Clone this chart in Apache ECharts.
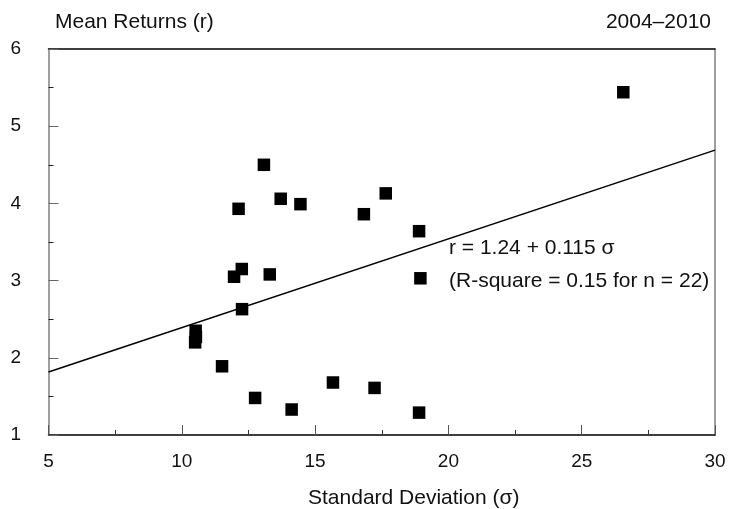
<!DOCTYPE html>
<html>
<head>
<meta charset="utf-8">
<script src="https://cdn.jsdelivr.net/npm/echarts@6/dist/echarts.min.js"></script>
<style>
  html, body { margin: 0; padding: 0; background: #fff; }
  #chart { width: 730px; height: 509px; }
</style>
</head>
<body>
<div id="chart"></div>
<script>
// Standard deviation (sigma) and mean return (r) per fund, 2004–2010
const sigma = [13.08, 12.13, 13.71, 14.45, 16.83, 17.65, 18.90, 12.25, 11.96, 13.30, 18.95,
               12.26, 10.52, 10.50, 10.53, 11.51, 12.75, 14.12, 15.67, 17.23, 18.90, 26.56];
const meanReturn = [4.50, 3.93, 4.06, 3.99, 3.86, 4.13, 3.64, 3.15, 3.05, 3.08, 3.03,
                    2.63, 2.35, 2.20, 2.27, 1.89, 1.48, 1.33, 1.68, 1.61, 1.29, 5.44];

// Fitted line r = a + b * sigma
const intercept = 1.24;
const slope = 0.115;
const fitRange = [5, 30];

const xTicks = [5, 10, 15, 20, 25, 30];
const yTicks = [1, 2, 3, 4, 5, 6];

const FONT = '"Liberation Sans", Arial, Helvetica, sans-serif';
const FS = 19;   // tick labels
const TS = 21;   // titles and annotation

const points = sigma.map((s, i) => [s, meanReturn[i]]);
const fitLine = fitRange.map(s => [s, intercept + slope * s]);

const chart = echarts.init(document.getElementById('chart'), null, { renderer: 'canvas' });

chart.setOption({
  animation: false,
  backgroundColor: '#ffffff',
  grid: { left: 48.5, right: 15, top: 49, bottom: 74 },
  title: [
    { text: 'Mean Returns (r)', left: 50, top: 7,
      textStyle: { fontFamily: FONT, fontSize: TS, fontWeight: 'normal', color: '#111' } },
    { text: '2004–2010', right: 14, top: 7,
      textStyle: { fontFamily: FONT, fontSize: TS, fontWeight: 'normal', color: '#111' } },
    { text: 'Standard Deviation (σ)', left: 303, top: 483,
      textStyle: { fontFamily: FONT, fontSize: TS, fontWeight: 'normal', color: '#111' } }
  ],
  xAxis: [
    {
      type: 'value', min: xTicks[0], max: xTicks[xTicks.length - 1], interval: 5,
      position: 'bottom',
      axisLine: { show: true, lineStyle: { color: '#000', width: 1.5 } },
      axisTick: { show: true, inside: true, length: 10, lineStyle: { color: '#555', width: 1 } },
      minorTick: { show: true, splitNumber: 2, length: 5, lineStyle: { color: '#333', width: 1 } },
      axisLabel: { margin: 17, fontFamily: FONT, fontSize: FS, color: '#111',
                   showMinLabel: true, showMaxLabel: true },
      splitLine: { show: false }
    },
    {
      type: 'value', min: xTicks[0], max: xTicks[xTicks.length - 1], position: 'top',
      axisLine: { show: true, lineStyle: { color: '#000', width: 1.5 } },
      axisTick: { show: false }, axisLabel: { show: false }, splitLine: { show: false }
    }
  ],
  yAxis: [
    {
      type: 'value', min: yTicks[0], max: yTicks[yTicks.length - 1], interval: 1,
      position: 'left',
      axisLine: { show: true, lineStyle: { color: '#808080', width: 1.5 } },
      axisTick: { show: true, inside: true, length: 10, lineStyle: { color: '#666', width: 1 } },
      minorTick: { show: true, splitNumber: 2, length: 5, lineStyle: { color: '#222', width: 1 } },
      axisLabel: { margin: 38, align: 'left', fontFamily: FONT, fontSize: FS, color: '#111',
                   showMinLabel: true, showMaxLabel: true },
      splitLine: { show: false }
    },
    {
      type: 'value', min: yTicks[0], max: yTicks[yTicks.length - 1], position: 'right',
      axisLine: { show: true, lineStyle: { color: '#808080', width: 1.5 } },
      axisTick: { show: false }, axisLabel: { show: false }, splitLine: { show: false }
    }
  ],
  series: [
    {
      type: 'line',
      data: fitLine,
      showSymbol: false,
      symbol: 'none',
      lineStyle: { color: '#000', width: 1.5 },
      z: 2
    },
    {
      type: 'scatter',
      data: points,
      symbol: 'rect',
      symbolSize: 12.5,
      itemStyle: { color: '#000', opacity: 1 },
      z: 3
    }
  ],
  graphic: [
    { type: 'text', left: 449, top: 238,
      style: { text: 'r = 1.24 + 0.115 σ', font: TS + 'px ' + FONT, fill: '#111' } },
    { type: 'text', left: 449, top: 271,
      style: { text: '(R-square = 0.15 for n = 22)', font: TS + 'px ' + FONT, fill: '#111' } }
  ]
});
</script>
</body>
</html>
